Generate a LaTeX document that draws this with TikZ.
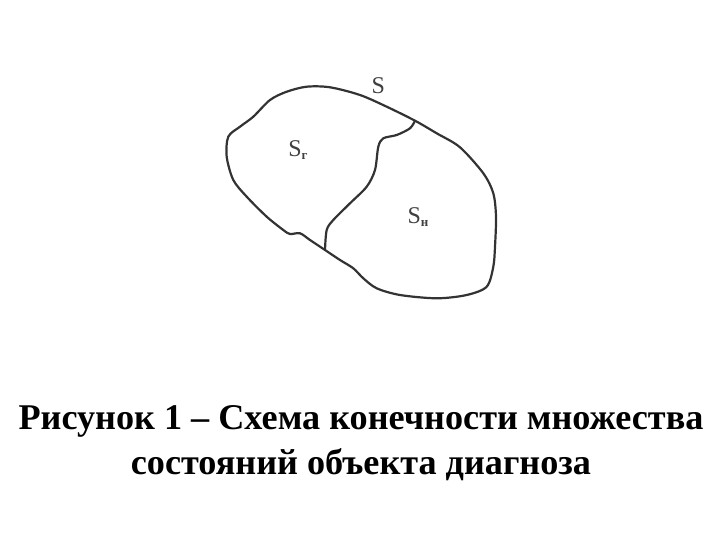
\documentclass[tikz,border=0pt]{standalone}
\usepackage{fontspec}
\setmainfont{Liberation Serif}
\usepackage{tikz}
\usetikzlibrary{positioning}

\tikzset{
	outline/.style={line width=2.2pt, line join=round, black!80},
	setlabel/.style={font=\fontsize{24}{24}\selectfont, text=black!75},
	subscr/.style={font=\bfseries\fontsize{13}{13}\selectfont},
	caption/.style={font=\bfseries\fontsize{36.2}{45}\selectfont, align=center}
}

\begin{document}
\begin{tikzpicture}[x=1pt, y=-1pt]
		\useasboundingbox (0,0) rectangle (720,540);
		% junctions of the dividing line with the outline
		\coordinate (top) at (415,120.7);
		\coordinate (bot) at (325,250);
		% the whole set S
		\draw[outline] plot[smooth cycle, tension=0.5] coordinates {
			(306.7,86.7) (330,87.3) (360,95) (386.7,106.7) (top)
			(436.7,133.3) (460,147.3) (483.3,173.3) (493.3,193.3) (496,216.7)
			(495,246.7) (493.3,266.7) (486.7,286.7) (466.7,295) (436.7,298.3)
			(400,295) (376.7,288.3) (363.3,278.3) (353.3,268.3) (340,260) (bot)
			(310,240) (300,233.3) (290,234) (283.3,230) (266.7,216.7)
			(246.7,196.7) (233.3,180) (226.7,156.7) (228.3,136.7) (240,126.7)
			(253.3,116.7) (270,100) (286.7,91.7)
		};
		% border between the two parts
		\draw[outline] plot[smooth, tension=0.5] coordinates {
			(top) (410,128.3) (396.7,135) (383.3,138.3) (378.3,146.7) (375,170)
			(366.7,186.7) (350,203.3) (333.3,220) (326.7,230) (bot)
		};
		\node[setlabel] (s) at (378.3,86) {S};
		\node[setlabel] (sg) at (298,150) {S\raisebox{-0.3ex}{\tikz[baseline]\node[subscr,inner sep=0pt,anchor=base]{г};}};
		\node[setlabel] (sn) at (418,217) {S\raisebox{-0.3ex}{\tikz[baseline]\node[subscr,inner sep=0pt,anchor=base]{н};}};
		\node[caption] (cap) at (361,443) {Рисунок 1 – Схема конечности множества\\состояний объекта диагноза};
	\end{tikzpicture}
\end{document}
